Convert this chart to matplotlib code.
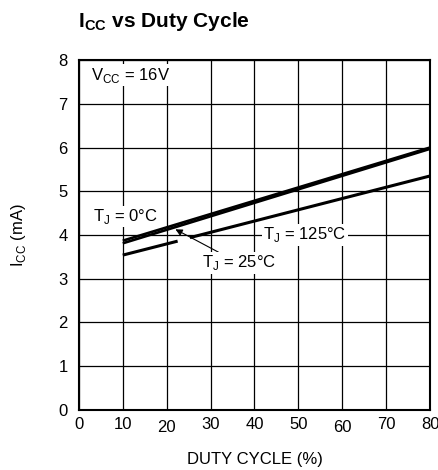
import numpy as np
import matplotlib.pyplot as plt
from matplotlib import font_manager
from matplotlib.transforms import ScaledTranslation

duty = [10, 80]
icc_0c = [3.87, 6.0]
icc_25c = [3.81, 5.97]
duty_125 = [10, 22.5, np.nan, 25.3, 80]
icc_125c = [3.54, 3.86, np.nan, 3.94, 5.35]

xticks = [0, 10, 20, 30, 40, 50, 60, 70, 80]
yticks = [0, 1, 2, 3, 4, 5, 6, 7, 8]

names = {f.name for f in font_manager.fontManager.ttflist}
fam = 'Liberation Sans Narrow' if 'Liberation Sans Narrow' in names else 'Liberation Sans'
plt.rcParams['font.family'] = [fam, 'DejaVu Sans']

fig = plt.figure(figsize=(4.38, 4.70), dpi=100)
ax = fig.add_axes([0.180, 0.1277, 0.802, 0.7446])

ax.plot(duty, icc_0c, color='black', lw=1.9, solid_capstyle='butt')
ax.plot(duty, icc_25c, color='black', lw=1.9, solid_capstyle='butt')
ax.plot(duty_125, icc_125c, color='black', lw=2.2, solid_capstyle='butt')

ax.set_xlim(0, 80)
ax.set_ylim(0, 8)
ax.set_xticks(xticks)
ax.set_yticks(yticks)
ax.grid(True, color='black', lw=0.9)
ax.set_axisbelow(True)
ax.tick_params(length=0, labelsize=12)
ax.tick_params(axis='y', pad=8)
ax.tick_params(axis='x', pad=5)
for s in ax.spines.values():
    s.set_linewidth(1.5)

# 20 and 60 sit a little lower in the reference
for i, lbl in enumerate(ax.get_xticklabels()):
    if xticks[i] in (20, 60):
        lbl.set_transform(lbl.get_transform() + ScaledTranslation(0, -3 / 100, fig.dpi_scale_trans))

ax.set_xlabel('DUTY CYCLE (%)', fontsize=12, labelpad=12)
ax.set_ylabel('I$_{\\mathregular{CC}}$ (mA)', fontsize=12, labelpad=22)

ax.text(2.8, 7.65, 'V$_{\\mathregular{CC}}$ = 16V', fontsize=12, va='center',
        bbox=dict(fc='white', ec='none', pad=1))
ax.text(3.2, 4.42, 'T$_{\\mathregular{J}}$ = 0°C', fontsize=12, va='center',
        bbox=dict(fc='white', ec='none', pad=1))
ax.text(42.0, 4.0, 'T$_{\\mathregular{J}}$ = 125°C', fontsize=12, va='center',
        bbox=dict(fc='white', ec='none', pad=1))
ax.annotate('T$_{\\mathregular{J}}$ = 25°C', xy=(22.0, 4.13), xytext=(28.0, 3.36),
            fontsize=12, va='center', ha='left',
            bbox=dict(fc='white', ec='none', pad=1),
            arrowprops=dict(arrowstyle='-|>', color='black', lw=0.8,
                            mutation_scale=10, shrinkA=0, shrinkB=0))

fig.text(0.178, 0.955, 'I$_{\\mathregular{CC}}$ vs Duty Cycle', fontsize=15,
         fontweight='bold', va='center', ha='left')

fig.savefig('out.png', dpi=100)
